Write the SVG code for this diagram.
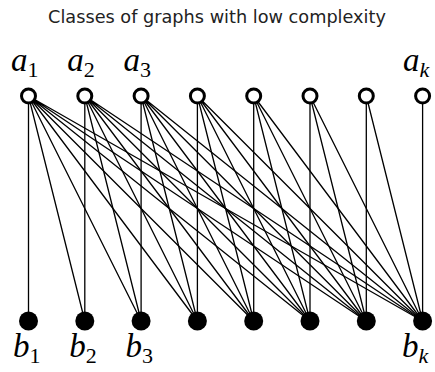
<svg xmlns="http://www.w3.org/2000/svg" width="435" height="372" viewBox="0 0 435 372">
<style>
.title{font-family:"DejaVu Sans","Noto Sans",sans-serif;font-size:17.7px;fill:#222;text-anchor:middle}
.lbl{font-family:"Liberation Serif",serif;font-style:italic;font-size:33px;fill:#000}
.sub{font-size:22px;font-style:normal}
.subk{font-size:22px;font-style:italic}
.e{stroke:#000;stroke-width:1.3;fill:none}
.a{fill:#fff;stroke:#000;stroke-width:3}
.b{fill:#000}
</style>
<text class="title" x="217" y="23">Classes of graphs with low complexity</text>
<g id="edges">
<path class="e" d="M28.5 96L28.5 321M28.5 96L84.8 321M28.5 96L141.1 321M28.5 96L197.4 321M28.5 96L253.7 321M28.5 96L310 321M28.5 96L366.3 321M28.5 96L422.6 321"/>
<path class="e" d="M84.8 96L84.8 321M84.8 96L141.1 321M84.8 96L197.4 321M84.8 96L253.7 321M84.8 96L310 321M84.8 96L366.3 321M84.8 96L422.6 321"/>
<path class="e" d="M141.1 96L141.1 321M141.1 96L197.4 321M141.1 96L253.7 321M141.1 96L310 321M141.1 96L366.3 321M141.1 96L422.6 321"/>
<path class="e" d="M197.4 96L197.4 321M197.4 96L253.7 321M197.4 96L310 321M197.4 96L366.3 321M197.4 96L422.6 321"/>
<path class="e" d="M253.7 96L253.7 321M253.7 96L310 321M253.7 96L366.3 321M253.7 96L422.6 321"/>
<path class="e" d="M310 96L310 321M310 96L366.3 321M310 96L422.6 321"/>
<path class="e" d="M366.3 96L366.3 321M366.3 96L422.6 321"/>
<path class="e" d="M422.6 96L422.6 321"/>
</g>
<g id="a1"><circle class="a" cx="28.5" cy="96" r="7"/><text class="lbl" x="11" y="71">a<tspan class="sub" dy="6">1</tspan></text></g>
<g id="a2"><circle class="a" cx="84.8" cy="96" r="7"/><text class="lbl" x="67.3" y="71">a<tspan class="sub" dy="6">2</tspan></text></g>
<g id="a3"><circle class="a" cx="141.1" cy="96" r="7"/><text class="lbl" x="123.6" y="71">a<tspan class="sub" dy="6">3</tspan></text></g>
<g id="a4"><circle class="a" cx="197.4" cy="96" r="7"/></g>
<g id="a5"><circle class="a" cx="253.7" cy="96" r="7"/></g>
<g id="a6"><circle class="a" cx="310" cy="96" r="7"/></g>
<g id="a7"><circle class="a" cx="366.3" cy="96" r="7"/></g>
<g id="ak"><circle class="a" cx="422.6" cy="96" r="7"/><text class="lbl" x="403" y="71">a<tspan class="subk" dy="6">k</tspan></text></g>
<g id="b1"><circle class="b" cx="28.5" cy="321" r="9.5"/><text class="lbl" x="13" y="357">b<tspan class="sub" dy="6">1</tspan></text></g>
<g id="b2"><circle class="b" cx="84.8" cy="321" r="9.5"/><text class="lbl" x="69.3" y="357">b<tspan class="sub" dy="6">2</tspan></text></g>
<g id="b3"><circle class="b" cx="141.1" cy="321" r="9.5"/><text class="lbl" x="125.6" y="357">b<tspan class="sub" dy="6">3</tspan></text></g>
<g id="b4"><circle class="b" cx="197.4" cy="321" r="9.5"/></g>
<g id="b5"><circle class="b" cx="253.7" cy="321" r="9.5"/></g>
<g id="b6"><circle class="b" cx="310" cy="321" r="9.5"/></g>
<g id="b7"><circle class="b" cx="366.3" cy="321" r="9.5"/></g>
<g id="bk"><circle class="b" cx="422.6" cy="321" r="9.5"/><text class="lbl" x="402" y="357">b<tspan class="subk" dy="6">k</tspan></text></g>
</svg>
